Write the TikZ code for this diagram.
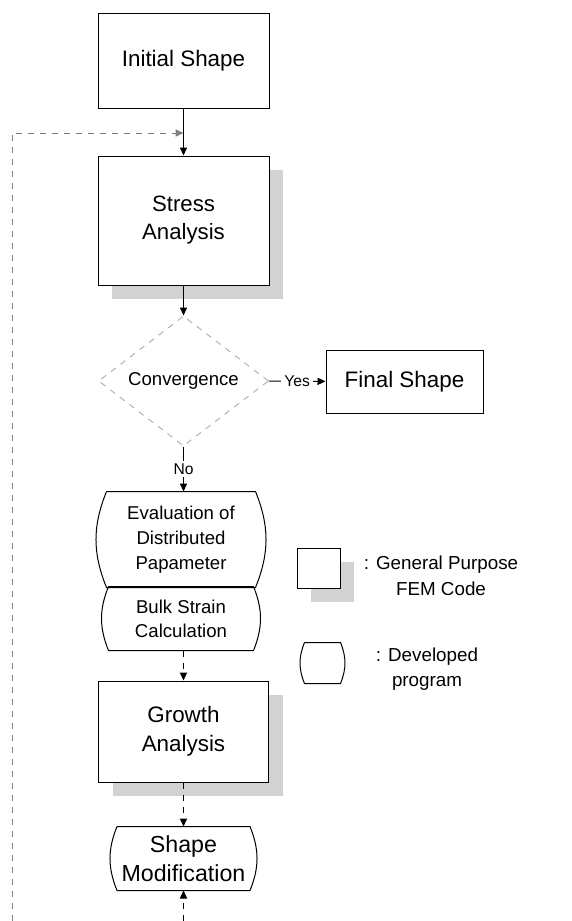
\documentclass[tikz,border=0pt]{standalone}
\usepackage{fontspec}
\setmainfont{Liberation Sans}
\usetikzlibrary{arrows.meta, shapes.geometric, shadows}

\begin{document}
\begin{tikzpicture}[x=0.5pt, y=-0.5pt, >={Triangle[length=4pt, width=3.6pt]}, line width=0.5pt,
  plainbox/.style={draw, rectangle, inner sep=0pt, align=center},
  fembox/.style={plainbox, fill=white, drop shadow={shadow xshift=7pt, shadow yshift=-7pt, fill=gray!35, opacity=1}},
  progbox/.style={rectangle, inner sep=0pt, align=center},
  decision/.style={draw=gray!60, dashed, diamond, inner sep=0pt, minimum width=85pt, minimum height=65pt, align=center},
  lbl/.style={fill=white, inner sep=1.5pt, font=\fontsize{7.8}{9}\selectfont}]
  \useasboundingbox (0,0) rectangle (572,921);
  % flujo principal
  \node[plainbox, minimum width=85.5pt, minimum height=47.5pt, font=\fontsize{11.2}{14}\selectfont] (ini) at (183.5,60.5) {Initial Shape};
  \node[fembox, minimum width=85.5pt, minimum height=64.5pt, font=\fontsize{11.1}{14}\selectfont] (stress) at (183.5,220.5) {Stress\\Analysis};
  \node[decision, font=\fontsize{9.3}{11}\selectfont] (conv) at (183.5,381) {Convergence};
  \node[plainbox, minimum width=78.5pt, minimum height=31.5pt, font=\fontsize{11.2}{14}\selectfont] (fin) at (404.5,381.5) {Final Shape};
  \node[progbox, minimum width=74pt, minimum height=47.5pt, font=\fontsize{9.3}{12.5}\selectfont] (eval) at (181,539.5) {Evaluation of\\Distributed\\Papameter};
  \node[progbox, minimum width=72pt, minimum height=31.5pt, font=\fontsize{9.3}{12}\selectfont] (bulk) at (181,618.5) {Bulk Strain\\Calculation};
  \node[fembox, minimum width=85pt, minimum height=50.5pt, font=\fontsize{11.2}{14.5}\selectfont] (growth) at (183.5,731.5) {Growth\\Analysis};
  \node[progbox, minimum width=66pt, minimum height=31.5pt, font=\fontsize{11.6}{14.5}\selectfont] (shmod) at (183.5,858.5) {Shape\\Modification};
  % contorno de los programas propios
  \node[progbox, minimum width=17.5pt, minimum height=20pt] (lgprog) at (322.5,663) {};
  \foreach \n in {eval, bulk, shmod, lgprog}
    \draw (\n.north west) -- (\n.north east) to[bend left=22] (\n.south east)
      -- (\n.south west) to[bend left=22] (\n.north west);
  % conexiones
  \coordinate (jn) at (183.5,133);
  \coordinate (lp) at (12,921);
  \coordinate (bt) at (183.5,921);
  \draw[->] (ini) -- (stress);
  \draw[->, dashed, gray] (lp) |- (jn);
  \draw[->] (stress) -- (conv);
  \draw[->] (conv) -- node[lbl]{Yes} (fin);
  \draw[->] (conv) -- node[lbl]{No} (eval.north -| conv);
  \draw[->, dashed] (bulk.south -| growth) -- (growth);
  \draw[->, dashed] (growth) -- (shmod);
  \draw[->, dashed] (bt) -- (shmod);
  % leyenda
  \node[fembox, minimum width=21.5pt, minimum height=20pt] (lgfem) at (318.5,568) {};
  \node[align=center, font=\fontsize{9.4}{13}\selectfont] (lgfemtxt) at (441,576) {: General Purpose\\FEM Code};
  \node[align=center, font=\fontsize{9.4}{12.5}\selectfont] (lgprogtxt) at (427,669) {: Developed\\program};
\end{tikzpicture}
\end{document}
